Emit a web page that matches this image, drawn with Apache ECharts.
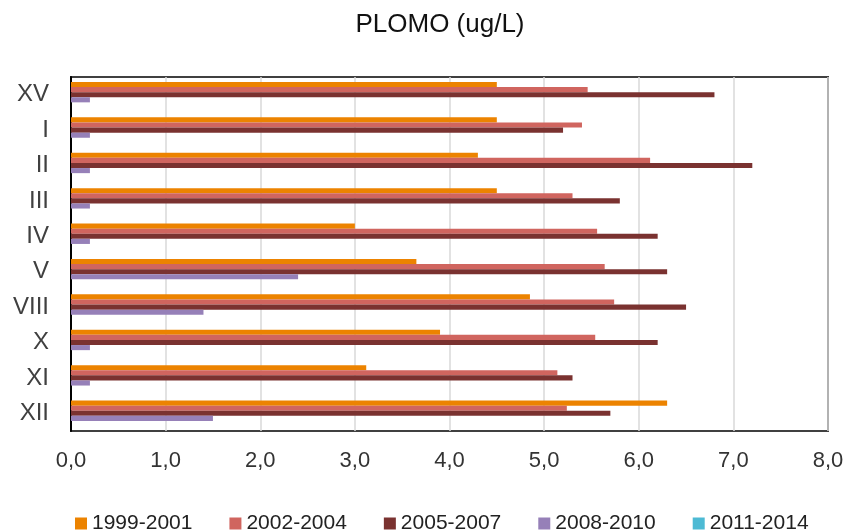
<!DOCTYPE html>
<html>
<head>
<meta charset="utf-8">
<script src="https://cdn.jsdelivr.net/npm/echarts@6/dist/echarts.min.js"></script>
<style>
html,body{margin:0;padding:0;background:#fff;}
#chart{width:847px;height:530px;}
</style>
</head>
<body>
<div id="chart"></div>
<script>
const categories = ['XV', 'I', 'II', 'III', 'IV', 'V', 'VIII', 'X', 'XI', 'XII'];
const seriesNames = ['1999-2001', '2002-2004', '2005-2007', '2008-2010', '2011-2014'];
const s1999 = [4.5, 4.5, 4.3, 4.5, 3.0, 3.65, 4.85, 3.9, 3.12, 6.3];
const s2002 = [5.46, 5.4, 6.12, 5.3, 5.56, 5.64, 5.74, 5.54, 5.14, 5.24];
const s2005 = [6.8, 5.2, 7.2, 5.8, 6.2, 6.3, 6.5, 6.2, 5.3, 5.7];
const s2008 = [0.2, 0.2, 0.2, 0.2, 0.2, 2.4, 1.4, 0.2, 0.2, 1.5];
const s2011 = [0, 0, 0, 0, 0, 0, 0, 0, 0, 0];
const xTickValues = [0, 1, 2, 3, 4, 5, 6, 7, 8];
const xTickLabels = ['0,0', '1,0', '2,0', '3,0', '4,0', '5,0', '6,0', '7,0', '8,0'];
const colors = ['#EC8300', '#D0655F', '#7A3230', '#9680B8', '#4DBAD4'];

const allData = [s1999, s2002, s2005, s2008, s2011];
const chart = echarts.init(document.getElementById('chart'));
chart.setOption({
  animation: false,
  title: {
    text: 'PLOMO (ug/L)',
    left: 435, top: 7, textAlign: 'center',
    textStyle: { fontFamily: 'Liberation Sans', fontSize: 26, fontWeight: 'normal', color: '#111' }
  },
  legend: {
    top: 508, left: 70,
    itemWidth: 12, itemHeight: 12, itemGap: 37,
    icon: 'rect',
    textStyle: { fontFamily: 'Liberation Sans', fontSize: 21, color: '#222' },
    data: seriesNames
  },
  grid: {
    left: 71, right: 19, top: 77, bottom: 99,
    show: true, borderColor: '#404040', borderWidth: 2, backgroundColor: '#fff'
  },
  xAxis: {
    type: 'value', min: 0, max: 8, interval: 1,
    axisLine: { show: false }, axisTick: { show: false },
    splitLine: { show: true, lineStyle: { color: '#d9d9d9', width: 1.5 } },
    axisLabel: {
      margin: 19, fontFamily: 'Liberation Sans', fontSize: 22, color: '#333',
      formatter: v => xTickLabels[xTickValues.indexOf(v)]
    }
  },
  yAxis: {
    type: 'category', data: categories, inverse: true,
    axisLine: { show: true, lineStyle: { color: '#000', width: 2 } },
    axisTick: { show: false },
    axisLabel: { margin: 22, fontFamily: 'Liberation Sans', fontSize: 24, color: '#404040' }
  },
  series: seriesNames.map((n, i) => ({
    name: n, type: 'bar', data: allData[i],
    barGap: '0%', barCategoryGap: '28%',
    itemStyle: { color: colors[i] }
  }))
});
</script>
</body>
</html>
